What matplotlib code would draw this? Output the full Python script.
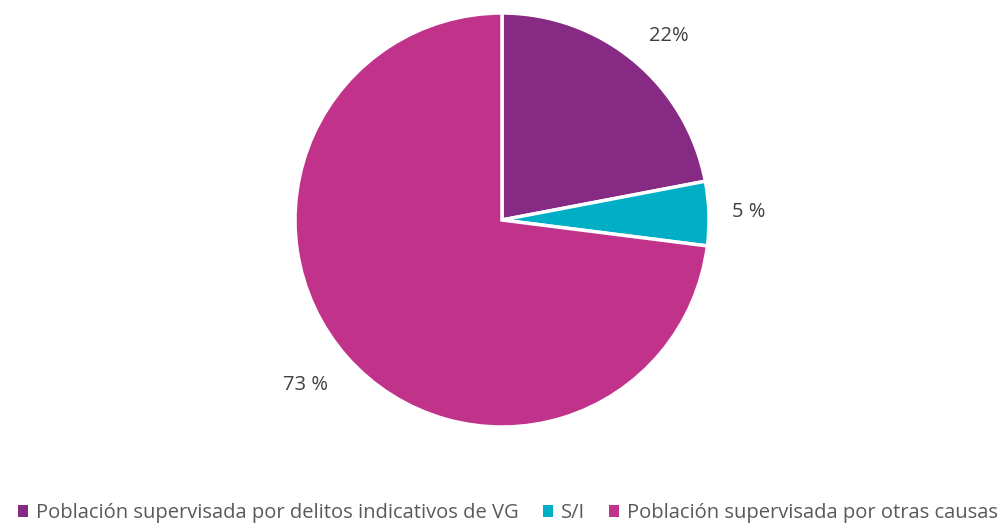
import matplotlib.pyplot as plt
from matplotlib.patches import Patch
import numpy as np

plt.rcParams['font.family'] = ['Open Sans', 'DejaVu Sans']

categories = ['Población supervisada por delitos indicativos de VG', 'S/I',
              'Población supervisada por otras causas']
values = [22, 5, 73]
pct_labels = ['22%', '5 %', '73 %']
colors = ['#872A84', '#00AEC6', '#C1338A']

fig = plt.figure(figsize=(10.08, 5.24), dpi=100)
ax = fig.add_axes([295 / 1008, 97 / 524, 414 / 1008, 414 / 524])

wedges, texts = ax.pie(values, colors=colors, startangle=90, counterclock=False,
                       labels=pct_labels, labeldistance=1.2,
                       wedgeprops=dict(edgecolor='white', linewidth=2.5),
                       textprops=dict(fontsize=14.5, color='#404040'))

# nudge label positions a bit to where they sit in the reference
dist = [1.2, 1.19, 1.24]
shift = [-2.5, 0, -1.5]
for w, t, d, s in zip(wedges, texts, dist, shift):
    ang = np.deg2rad((w.theta1 + w.theta2) / 2 + s)
    t.set_position((d * np.cos(ang), d * np.sin(ang)))
    t.set_ha('center')
    t.set_va('center')

ax.set_xlim(-1, 1)
ax.set_ylim(-1, 1)
ax.set_aspect('equal')

handles = [Patch(facecolor=c, edgecolor='none') for c in colors]
fig.legend(handles, categories, loc='center', bbox_to_anchor=(0.504, 1 - 513 / 524),
           ncol=3, frameon=False, fontsize=14.5, labelcolor='#595959',
           handlelength=0.5, handleheight=0.5, handletextpad=0.4,
           columnspacing=1.2)

fig.savefig('out.png', dpi=100)
